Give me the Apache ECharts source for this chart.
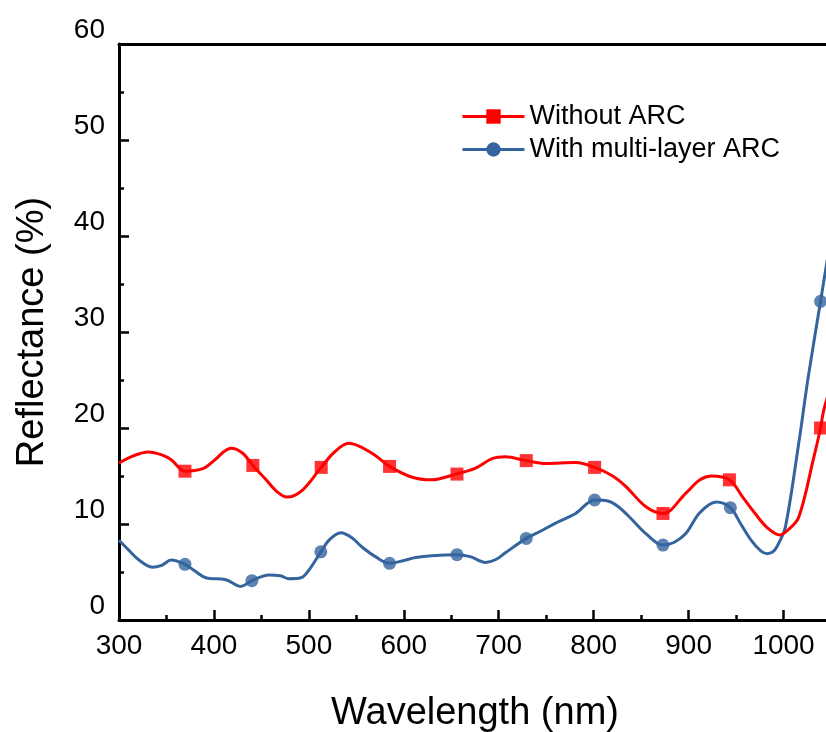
<!DOCTYPE html>
<html>
<head>
<meta charset="utf-8">
<script src="https://cdn.jsdelivr.net/npm/echarts@6/dist/echarts.min.js"></script>
<style>
html,body{margin:0;padding:0;overflow:hidden;background:#fff;width:826px;height:732px;}
#c{width:840px;height:732px;}
</style>
</head>
<body>
<div id="c"></div>
<script>
// Wavelength (nm) / Reflectance (%)
var redX = [300,315,331,345,355,369.5,389,400,418,430,441,455,466,477,493,513,527,542,566,585,608,629,655,675,693,707,729,749,781,801,820,834,855,873,897,912,924,943,957,970,983,996,1005,1016,1032,1039,1042,1048];
var redY = [16.35,17.1,17.5,17.2,16.7,15.5,15.8,16.6,17.9,17.4,16.1,14.6,13.4,12.8,13.5,15.9,17.5,18.4,17.4,16.0,14.9,14.6,15.2,15.8,16.8,17.0,16.6,16.3,16.4,15.9,15.0,13.9,11.8,11.1,13.2,14.6,15.0,14.6,12.8,11.1,9.6,8.85,9.4,10.7,17.0,20.0,21.7,23.8];
var blueX = [300,310,321,335,345,355,369.5,380,391.5,412.6,428,440,458,470,479,491.6,500,512.6,522,533.7,545,556,570,585,600,612.6,629.5,655,670,686,697,707,729,745,760,781,801,815,826,840,855,873,885,897,912,929,944,955,966,976,983,990,995,1002,1016,1026,1039,1046];
var blueY = [8.3,7.3,6.25,5.5,5.7,6.25,5.8,5.1,4.4,4.2,3.5,4.1,4.7,4.6,4.3,4.4,5.2,7.1,8.4,9.1,8.6,7.6,6.6,5.9,6.2,6.5,6.7,6.8,6.6,6.0,6.3,7.0,8.5,9.3,10.1,11.1,12.5,12.4,11.8,10.5,9.0,7.8,8.1,9.0,11.2,12.3,11.7,10.0,8.3,7.2,6.9,7.2,8.0,9.7,18.4,25.3,33.2,37.5];
var redMarkX = [369.5,441,513,585,656,729,801,873,943,1039];
var redMarkY = [15.5,16.1,15.9,16.0,15.2,16.6,15.9,11.1,14.6,20.0];
var blueMarkX = [369.5,440,512.6,585,656,729,801,873,944,1039];
var blueMarkY = [5.8,4.1,7.1,5.9,6.8,8.5,12.5,7.8,11.7,33.2];
var seriesNames = ['Without ARC','With multi-layer ARC'];
var xTitle = 'Wavelength (nm)';
var yTitle = 'Reflectance (%)';

function zip(a,b){return a.map(function(v,i){return [v,b[i]];});}
var RED = '#FF0000', BLUE = '#33649E';
var FONT = 'Arial, "Liberation Sans", sans-serif';

var chart = echarts.init(document.getElementById('c'), null, {renderer:'canvas'});
chart.setOption({
  animation:false,
  backgroundColor:'#fff',
  grid:{left:119, top:44, bottom:112, width:712, containLabel:false, outerBoundsMode:'none'},
  legend:{
    data:[seriesNames[0],seriesNames[1]],
    orient:'vertical', left:461, top:103, padding:0,
    itemWidth:62, itemHeight:18, itemGap:6,
    lineStyle:{width:3},
    textStyle:{fontSize:27, lineHeight:26, color:'#000', fontFamily:FONT}
  },
  xAxis:[{
    type:'value', min:300, max:1050, interval:100,
    name:xTitle, nameLocation:'middle', nameGap:75,
    nameTextStyle:{fontSize:38, color:'#000', fontFamily:FONT},
    axisLine:{lineStyle:{color:'#000', width:3}},
    axisTick:{inside:true, length:10, lineStyle:{color:'#000', width:2.5}},
    minorTick:{show:true, splitNumber:2, length:5, lineStyle:{color:'#000', width:2.5}},
    axisLabel:{fontSize:28, color:'#000', fontFamily:FONT, margin:12,
      formatter:function(v){return v<=1000? String(v):'';}},
    splitLine:{show:false}
  },{
    type:'value', min:300, max:1050, position:'top',
    axisLine:{onZero:false, lineStyle:{color:'#000', width:3}},
    axisTick:{show:false}, axisLabel:{show:false}, splitLine:{show:false}
  }],
  yAxis:{
    type:'value', min:0, max:60, interval:10,
    name:yTitle, nameLocation:'middle', nameGap:67,
    nameTextStyle:{fontSize:38, color:'#000', fontFamily:FONT},
    axisLine:{lineStyle:{color:'#000', width:3}},
    axisTick:{inside:true, length:10, lineStyle:{color:'#000', width:2.5}},
    minorTick:{show:true, splitNumber:2, length:5, lineStyle:{color:'#000', width:2.5}},
    axisLabel:{fontSize:28, color:'#000', fontFamily:FONT, margin:14, verticalAlign:'bottom', lineHeight:28},
    splitLine:{show:false}
  },
  series:[
    {name:seriesNames[0], type:'line', data:zip(redX,redY), smooth:0.35, showSymbol:false,
     symbol:'rect', symbolSize:12, lineStyle:{color:RED, width:3}, itemStyle:{color:RED}, z:3},
    {name:seriesNames[1], type:'line', data:zip(blueX,blueY), smooth:0.35, showSymbol:false,
     symbol:'circle', symbolSize:12, lineStyle:{color:BLUE, width:3}, itemStyle:{color:BLUE}, z:2},
    {name:'rm', type:'scatter', data:zip(redMarkX,redMarkY), symbol:'rect', symbolSize:13,
     itemStyle:{color:RED}, z:4},
    {name:'bm', type:'scatter', data:zip(blueMarkX,blueMarkY), symbol:'circle', symbolSize:13,
     itemStyle:{color:BLUE}, z:4}
  ]
});
</script>
</body>
</html>
